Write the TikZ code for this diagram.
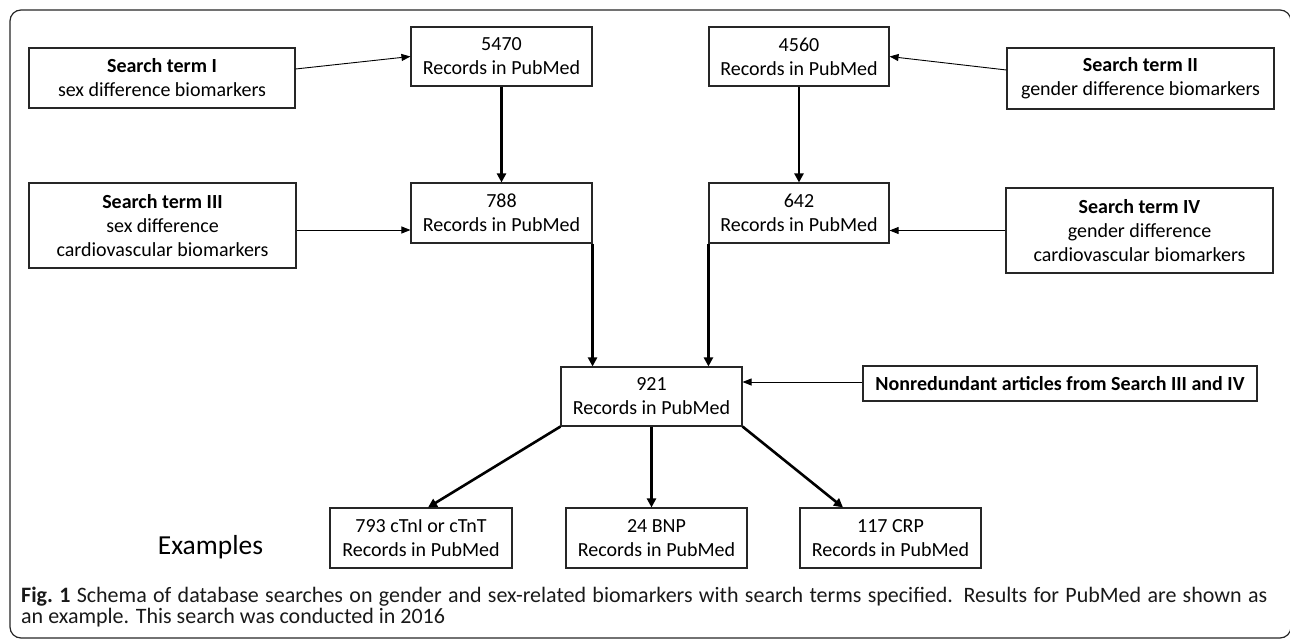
\documentclass[tikz,border=0pt]{standalone}
\usepackage{fontspec}
\setmainfont{Carlito}
\usetikzlibrary{arrows.meta,calc}
\tikzset{
  box/.style={draw=black!85, line width=1.1pt, inner sep=0pt, align=center,
    font=\fontsize{20}{24}\selectfont},
  thinarrow/.style={draw=black, line width=0.9pt, -{Triangle[length=9pt,width=7pt]}},
  thickarrow/.style={draw=black, line width=2.6pt, -{Triangle[length=9pt,width=9pt]}},
  frame/.style={draw=black!85, line width=1.2pt, rounded corners=11pt},
  captext/.style={inner sep=0pt, anchor=base west, text=black!90, font=\fontsize{22}{21}\selectfont}
}
\begin{document}
\begin{tikzpicture}[x=1pt,y=-1pt]
\useasboundingbox (0,0) rectangle (1290,639);
\draw[frame] (10,638) -- (10,10) -- (1291,10) -- (1291,638) -- cycle;

\node[box, minimum width=266pt, minimum height=60pt] (t1) at (162,78) {\textbf{Search term I}\\sex difference biomarkers};
\node[box, minimum width=267pt, minimum height=85pt] (t3) at (162.5,225.5) {\textbf{Search term III}\\sex difference\\cardiovascular biomarkers};
\node[box, minimum width=181pt, minimum height=59pt] (n5470) at (501.5,56.5) {5470\\Records in PubMed};
\node[box, minimum width=181pt, minimum height=60pt] (n788) at (501.5,213) {788\\Records in PubMed};
\node[box, minimum width=180pt, minimum height=59pt] (n4560) at (799,56.5) {4560\\Records in PubMed};
\node[box, minimum width=180pt, minimum height=60pt] (n642) at (799,213) {642\\Records in PubMed};
\node[box, minimum width=267pt, minimum height=61pt] (t2) at (1140.5,78.5) {\textbf{Search term II}\\gender difference biomarkers};
\node[box, minimum width=267pt, minimum height=85pt] (t4) at (1139.5,230.5) {\textbf{Search term IV}\\gender difference\\cardiovascular biomarkers};
\node[box, minimum width=181pt, minimum height=59pt] (n921) at (651.5,396.5) {921\\Records in PubMed};
\node[box, minimum width=394pt, minimum height=35pt] (nr) at (1060,383.5) {\textbf{Nonredundant articles from Search III and IV}};
\node[box, minimum width=182pt, minimum height=60pt] (e793) at (421,538) {793 cTnI or cTnT\\Records in PubMed};
\node[box, minimum width=181pt, minimum height=60pt] (e24) at (656.5,538) {24 BNP\\Records in PubMed};
\node[box, minimum width=181pt, minimum height=60pt] (e117) at (890.5,538) {117 CRP\\Records in PubMed};
\node[font=\fontsize{27.5}{30}\selectfont, inner sep=0pt] (ex) at (210.5,547) {Examples};

\node[captext] (cap1) at (21,602)
  {\makebox[1246pt][s]{\textbf{Fig.\ 1} Schema of database searches on gender and sex-related biomarkers with search terms specified. Results for PubMed are shown as}};
\node[captext] (cap2) at (21,623) {an example. This search was conducted in 2016};

\draw[thinarrow] ([yshift=9pt]t1.east) -- (n5470.west);
\draw[thinarrow] ([yshift=8.5pt]t2.west) -- (n4560.east);
\draw[thinarrow] ([yshift=-4.5pt]t3.east) -- ([yshift=-4.5pt]t3.east -| n788.west);
\draw[thinarrow] (t4.west) -- (t4.west -| n642.east);
\draw[thinarrow] ([yshift=1.5pt]nr.west) -- ([yshift=1.5pt]nr.west -| n921.east);

\draw[thickarrow] (n5470.south) -- (n788.north);
\draw[thickarrow] (n4560.south) -- (n642.north);
\draw[thickarrow] (n788.south east) -- (n788.south east |- n921.north);
\draw[thickarrow] (n642.south west) -- (n642.south west |- n921.north);
\draw[thickarrow] (n921.south west) -- ([xshift=7pt]e793.north);
\draw[thickarrow] (n921.south) -- (n921.south |- e24.north);
\draw[thickarrow] (n921.south east) -- ([xshift=-47.5pt]e117.north);
\end{tikzpicture}
\end{document}
